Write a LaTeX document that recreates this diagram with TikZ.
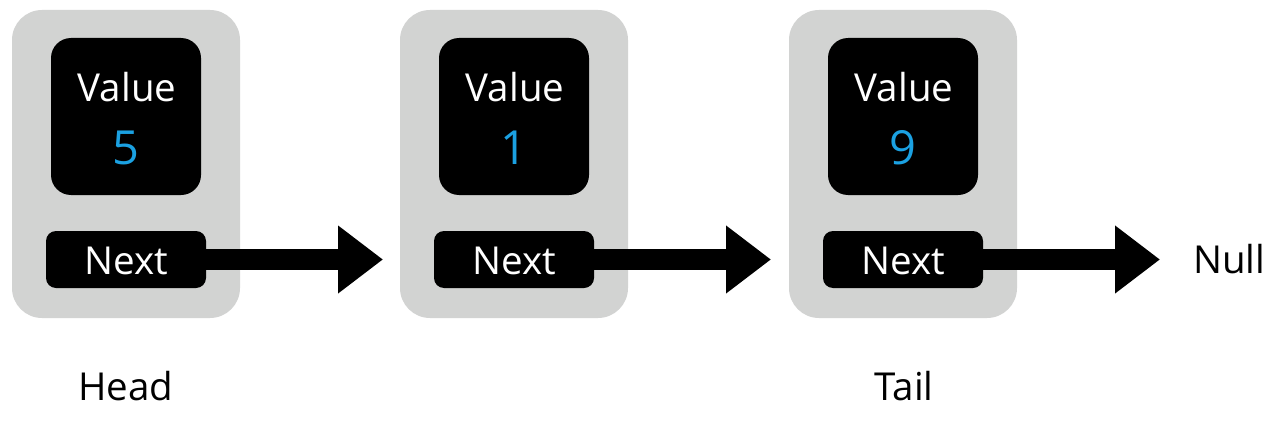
\documentclass[tikz,border=0pt]{standalone}
\usepackage{fontspec}
\setmainfont{Open Sans}
\usetikzlibrary{arrows.meta}
\definecolor{cardgrey}{HTML}{D2D3D2}
\definecolor{digitblue}{HTML}{1BA1E2}
\tikzset{
  card/.style={fill=cardgrey, draw=none, rounded corners=30pt, minimum width=228pt, minimum height=308pt, inner sep=0pt},
  valbox/.style={fill=black, draw=none, rounded corners=20pt, minimum width=150pt, minimum height=157pt, inner sep=0pt},
  nextbox/.style={fill=black, draw=none, rounded corners=10pt, minimum width=160pt, minimum height=57pt, inner sep=0pt},
  wtext/.style={text=white, font=\fontsize{38.5}{40}\selectfont, inner sep=0pt, anchor=base},
  dtext/.style={text=digitblue, font=\fontsize{47}{50}\selectfont, inner sep=0pt, anchor=base},
  btext/.style={text=black, font=\fontsize{38.5}{40}\selectfont, inner sep=0pt, anchor=base},
  bigarrow/.style={line width=21pt, -{Triangle[length=45pt,width=65pt]}}
}
\begin{document}
\begin{tikzpicture}[x=1pt,y=-1pt]
\useasboundingbox (0,0) rectangle (1284,420);
% cards
\node[card] (g1) at (126,164) {};
\node[card] (g2) at (514,164) {};
\node[card] (g3) at (903,164) {};
% value boxes
\node[valbox] (v1) at (126,116.5) {};
\node[valbox] (v2) at (514,116.5) {};
\node[valbox] (v3) at (903,116.5) {};
% next boxes
\node[nextbox] (n1) at (126,259.5) {};
\node[nextbox] (n2) at (514,259.5) {};
\node[nextbox] (n3) at (903,259.5) {};
% texts
\node[wtext] (vt1) at (127,101) {Value};
\node[wtext] (vt2) at (515,101) {Value};
\node[wtext] (vt3) at (904,101) {Value};
\node[dtext] (d1) at (126,164) {5};
\node[dtext] (d2) at (514,164) {1};
\node[dtext] (d3) at (903,164) {9};
\node[wtext] (nt1) at (126,274) {Next};
\node[wtext] (nt2) at (514,274) {Next};
\node[wtext] (nt3) at (903,274) {Next};
\node[btext] (head) at (126,400) {Head};
\node[btext] (tail) at (904,400) {Tail};
\node[btext, anchor=base west] (null) at (1193,273) {Null};
% arrows
\coordinate (e1) at (383,259.5);
\coordinate (e2) at (771,259.5);
\coordinate (e3) at (1160,259.5);
\draw[bigarrow] ([xshift=-4pt]n1.east) -- (e1);
\draw[bigarrow] ([xshift=-4pt]n2.east) -- (e2);
\draw[bigarrow] ([xshift=-4pt]n3.east) -- (e3);
\end{tikzpicture}
\end{document}
